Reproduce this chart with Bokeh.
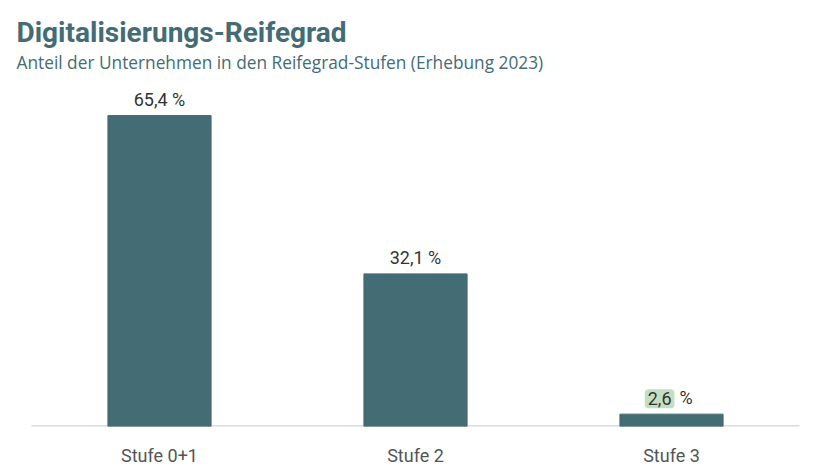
from bokeh.plotting import figure
from bokeh.models import ColumnDataSource, Range1d, FactorRange
from bokeh.core.properties import value
from bokeh.embed import file_html
from bokeh.resources import INLINE

# ---- data ----
categories = ["Stufe 0+1", "Stufe 2", "Stufe 3"]
shares = [65.4, 32.1, 2.6]
share_labels = ["65,4 %", "32,1 %", "2,6 %"]
highlighted = "Stufe 3"

title_text = "Digitalisierungs-Reifegrad"
subtitle_text = "Anteil der Unternehmen in den Reifegrad-Stufen (Erhebung 2023)"

TEAL = "#436c74"
FONT = "Roboto"
Y_TOP = 89.6  # value range shown from axis line up to the top of the canvas

src = ColumnDataSource(dict(cat=categories, val=shares, lab=share_labels))
plain = ColumnDataSource(dict(
    cat=[c for c in categories if c != highlighted],
    val=[v for c, v in zip(categories, shares) if c != highlighted],
    lab=[l for c, l in zip(categories, share_labels) if c != highlighted],
))
hi_i = categories.index(highlighted)
num, unit = share_labels[hi_i].split(" ")
hi_num = ColumnDataSource(dict(cat=[highlighted], val=[shares[hi_i]], lab=[num]))
hi_unit = ColumnDataSource(dict(cat=[highlighted], val=[shares[hi_i]], lab=[unit]))

x_range = FactorRange(*categories, range_padding=0.0625,
                      range_padding_units="absolute")
p = figure(x_range=x_range, y_range=Range1d(0, Y_TOP),
           frame_width=800, frame_height=426,
           min_border_left=15, min_border_right=15, min_border_bottom=49,
           min_border_top=0,
           output_backend="svg", toolbar_location=None, tools="",
           background_fill_color="white", border_fill_color="white",
           outline_line_color=None)

# baseline across the category span
base = ColumnDataSource(dict(x0=[0], x1=[len(categories)], y=[0]))
p.segment(x0="x0", x1="x1", y0="y", y1="y", source=base,
          line_color="#dcdcdc", line_width=3)

p.vbar(x="cat", top="val", width=0.403, source=src, color=TEAL)

p.text(x="cat", y="val", text="lab", source=plain, text_align="center",
       text_baseline="bottom", y_offset=-6, text_font=value(FONT),
       text_font_size="18px", text_color="#333333")
p.text(x="cat", y="val", text="lab", source=hi_num, text_align="right",
       text_baseline="bottom", y_offset=-6, x_offset=3, text_font=value(FONT),
       text_font_size="18px", text_color="#333333",
       background_fill_color="#c4dec4", border_radius=4, padding=3)
p.text(x="cat", y="val", text="lab", source=hi_unit, text_align="left",
       text_baseline="bottom", y_offset=-6, x_offset=8, text_font=value(FONT),
       text_font_size="18px", text_color="#333333")

# headings, anchored at the left/top edge of the category span
head = ColumnDataSource(dict(x=[0.0], y=[Y_TOP]))
p.text(x="x", y="y", text=value(title_text), source=head, x_offset=-15,
       y_offset=48, text_align="left", text_baseline="bottom",
       text_font=value(FONT), text_font_size="28px", text_font_style="bold",
       text_color=TEAL)
p.text(x="x", y="y", text=value(subtitle_text), source=head, x_offset=-15,
       y_offset=73, text_align="left", text_baseline="bottom",
       text_font=value("Open Sans"), text_font_size="17.3px",
       text_color=TEAL)

p.yaxis.visible = False
p.xgrid.grid_line_color = None
p.ygrid.grid_line_color = None
ax = p.xaxis[0]
ax.axis_line_color = None
ax.major_tick_line_color = None
ax.minor_tick_line_color = None
ax.major_label_text_font = FONT
ax.major_label_text_font_size = "18px"
ax.major_label_text_color = "#555555"
ax.major_label_standoff = 12

open("out.html", "w").write(file_html(p, INLINE))
